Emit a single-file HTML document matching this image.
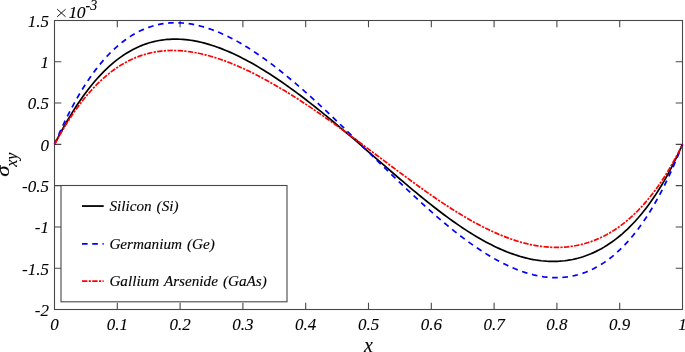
<!DOCTYPE html>
<html><head><meta charset="utf-8"><style>
html,body{margin:0;padding:0;background:#fff;}
svg{display:block;will-change:transform}
g.tx{filter:grayscale(1)}
.t{font-family:"Liberation Serif",serif;font-style:italic;font-size:17px;fill:#000;stroke:#000;stroke-width:0.1px}
.g{font-family:"Liberation Serif",serif;font-style:italic;font-size:15.2px;word-spacing:1.2px;fill:#000;stroke:#000;stroke-width:0.12px}
.l{font-family:"Liberation Serif",serif;font-style:italic;font-size:20px;fill:#000;stroke:#000;stroke-width:0.1px}
</style></head><body>
<svg width="685" height="352" viewBox="0 0 685 352">
<rect width="685" height="352" fill="#fff"/>
<rect x="54.5" y="20.5" width="628.0" height="289.0" fill="#fff" stroke="#484848" stroke-width="1.1"/>
<path d="M117.30,309.5 v-6.8 M117.30,20.5 v6.8" stroke="#484848" stroke-width="1.1" fill="none"/>
<path d="M180.10,309.5 v-6.8 M180.10,20.5 v6.8" stroke="#484848" stroke-width="1.1" fill="none"/>
<path d="M242.90,309.5 v-6.8 M242.90,20.5 v6.8" stroke="#484848" stroke-width="1.1" fill="none"/>
<path d="M305.70,309.5 v-6.8 M305.70,20.5 v6.8" stroke="#484848" stroke-width="1.1" fill="none"/>
<path d="M368.50,309.5 v-6.8 M368.50,20.5 v6.8" stroke="#484848" stroke-width="1.1" fill="none"/>
<path d="M431.30,309.5 v-6.8 M431.30,20.5 v6.8" stroke="#484848" stroke-width="1.1" fill="none"/>
<path d="M494.10,309.5 v-6.8 M494.10,20.5 v6.8" stroke="#484848" stroke-width="1.1" fill="none"/>
<path d="M556.90,309.5 v-6.8 M556.90,20.5 v6.8" stroke="#484848" stroke-width="1.1" fill="none"/>
<path d="M619.70,309.5 v-6.8 M619.70,20.5 v6.8" stroke="#484848" stroke-width="1.1" fill="none"/>
<path d="M54.5,61.79 h6.8 M682.5,61.79 h-6.8" stroke="#484848" stroke-width="1.1" fill="none"/>
<path d="M54.5,103.07 h6.8 M682.5,103.07 h-6.8" stroke="#484848" stroke-width="1.1" fill="none"/>
<path d="M54.5,144.36 h6.8 M682.5,144.36 h-6.8" stroke="#484848" stroke-width="1.1" fill="none"/>
<path d="M54.5,185.64 h6.8 M682.5,185.64 h-6.8" stroke="#484848" stroke-width="1.1" fill="none"/>
<path d="M54.5,226.93 h6.8 M682.5,226.93 h-6.8" stroke="#484848" stroke-width="1.1" fill="none"/>
<path d="M54.5,268.21 h6.8 M682.5,268.21 h-6.8" stroke="#484848" stroke-width="1.1" fill="none"/>
<path d="M54.50,144.36 L57.12,139.26 L59.73,134.30 L62.35,129.48 L64.97,124.80 L67.58,120.27 L70.20,115.88 L72.82,111.63 L75.43,107.51 L78.05,103.54 L80.67,99.70 L83.28,96.00 L85.90,92.44 L88.52,89.01 L91.13,85.71 L93.75,82.54 L96.37,79.50 L98.98,76.59 L101.60,73.80 L104.22,71.14 L106.83,68.60 L109.45,66.18 L112.07,63.88 L114.68,61.70 L117.30,59.63 L119.92,57.67 L122.53,55.83 L125.15,54.09 L127.77,52.46 L130.38,50.93 L133.00,49.51 L135.62,48.19 L138.23,46.97 L140.85,45.84 L143.47,44.81 L146.08,43.87 L148.70,43.02 L151.32,42.26 L153.93,41.59 L156.55,41.00 L159.17,40.50 L161.78,40.08 L164.40,39.73 L167.02,39.47 L169.63,39.28 L172.25,39.16 L174.87,39.12 L177.48,39.14 L180.10,39.24 L182.72,39.40 L185.33,39.63 L187.95,39.92 L190.57,40.28 L193.18,40.69 L195.80,41.17 L198.42,41.70 L201.03,42.29 L203.65,42.94 L206.27,43.63 L208.88,44.39 L211.50,45.19 L214.12,46.04 L216.73,46.94 L219.35,47.89 L221.97,48.89 L224.58,49.93 L227.20,51.02 L229.82,52.14 L232.43,53.31 L235.05,54.52 L237.67,55.78 L240.28,57.07 L242.90,58.39 L245.52,59.76 L248.13,61.16 L250.75,62.60 L253.37,64.07 L255.98,65.57 L258.60,67.11 L261.22,68.68 L263.83,70.28 L266.45,71.91 L269.07,73.58 L271.68,75.26 L274.30,76.98 L276.92,78.73 L279.53,80.50 L282.15,82.30 L284.77,84.12 L287.38,85.97 L290.00,87.84 L292.62,89.74 L295.23,91.65 L297.85,93.59 L300.47,95.55 L303.08,97.54 L305.70,99.54 L308.32,101.56 L310.93,103.60 L313.55,105.65 L316.17,107.73 L318.78,109.82 L321.40,111.93 L324.02,114.05 L326.63,116.19 L329.25,118.34 L331.87,120.50 L334.48,122.68 L337.10,124.87 L339.72,127.07 L342.33,129.28 L344.95,131.50 L347.57,133.73 L350.18,135.96 L352.80,138.21 L355.42,140.46 L358.03,142.72 L360.65,144.98 L363.27,147.25 L365.88,149.52 L368.50,151.79 L371.12,154.07 L373.73,156.34 L376.35,158.62 L378.97,160.90 L381.58,163.17 L384.20,165.45 L386.82,167.72 L389.43,169.98 L392.05,172.24 L394.67,174.50 L397.28,176.75 L399.90,178.99 L402.52,181.22 L405.13,183.45 L407.75,185.66 L410.37,187.86 L412.98,190.05 L415.60,192.22 L418.22,194.38 L420.83,196.53 L423.45,198.66 L426.07,200.77 L428.68,202.86 L431.30,204.93 L433.92,206.99 L436.53,209.02 L439.15,211.03 L441.77,213.01 L444.38,214.97 L447.00,216.91 L449.62,218.82 L452.23,220.70 L454.85,222.55 L457.47,224.37 L460.08,226.16 L462.70,227.92 L465.32,229.65 L467.93,231.34 L470.55,233.00 L473.17,234.62 L475.78,236.20 L478.40,237.75 L481.02,239.25 L483.63,240.72 L486.25,242.14 L488.87,243.52 L491.48,244.86 L494.10,246.16 L496.72,247.41 L499.33,248.61 L501.95,249.77 L504.57,250.87 L507.18,251.93 L509.80,252.94 L512.42,253.89 L515.03,254.80 L517.65,255.65 L520.27,256.45 L522.88,257.19 L525.50,257.87 L528.12,258.50 L530.73,259.07 L533.35,259.58 L535.97,260.03 L538.58,260.42 L541.20,260.75 L543.82,261.01 L546.43,261.21 L549.05,261.35 L551.67,261.41 L554.28,261.42 L556.90,261.35 L559.52,261.21 L562.13,261.01 L564.75,260.73 L567.37,260.38 L569.98,259.96 L572.60,259.46 L575.22,258.88 L577.83,258.23 L580.45,257.50 L583.07,256.69 L585.68,255.79 L588.30,254.82 L590.92,253.75 L593.53,252.61 L596.15,251.37 L598.77,250.05 L601.38,248.64 L604.00,247.13 L606.62,245.52 L609.23,243.82 L611.85,242.03 L614.47,240.13 L617.08,238.12 L619.70,236.01 L622.32,233.79 L624.93,231.46 L627.55,229.02 L630.17,226.46 L632.78,223.78 L635.40,220.97 L638.02,218.04 L640.63,214.98 L643.25,211.78 L645.87,208.44 L648.48,204.97 L651.10,201.34 L653.72,197.56 L656.33,193.63 L658.95,189.53 L661.57,185.26 L664.18,180.83 L666.80,176.21 L669.42,171.40 L672.03,166.41 L674.65,161.21 L677.27,155.81 L679.88,150.20 L682.50,144.36" stroke="#000" stroke-width="1.7" fill="none" stroke-linejoin="round"/>
<path d="M54.50,144.36 L57.12,138.28 L59.73,132.40 L62.35,126.72 L64.97,121.22 L67.58,115.91 L70.20,110.78 L72.82,105.83 L75.43,101.06 L78.05,96.46 L80.67,92.03 L83.28,87.77 L85.90,83.68 L88.52,79.74 L91.13,75.96 L93.75,72.34 L96.37,68.87 L98.98,65.55 L101.60,62.38 L104.22,59.35 L106.83,56.46 L109.45,53.72 L112.07,51.10 L114.68,48.62 L117.30,46.27 L119.92,44.05 L122.53,41.95 L125.15,39.98 L127.77,38.12 L130.38,36.39 L133.00,34.77 L135.62,33.26 L138.23,31.86 L140.85,30.57 L143.47,29.39 L146.08,28.31 L148.70,27.34 L151.32,26.46 L153.93,25.68 L156.55,25.00 L159.17,24.41 L161.78,23.92 L164.40,23.51 L167.02,23.19 L169.63,22.95 L172.25,22.80 L174.87,22.74 L177.48,22.75 L180.10,22.84 L182.72,23.01 L185.33,23.25 L187.95,23.57 L190.57,23.96 L193.18,24.42 L195.80,24.95 L198.42,25.55 L201.03,26.21 L203.65,26.94 L206.27,27.73 L208.88,28.58 L211.50,29.49 L214.12,30.46 L216.73,31.49 L219.35,32.57 L221.97,33.71 L224.58,34.90 L227.20,36.15 L229.82,37.44 L232.43,38.79 L235.05,40.18 L237.67,41.62 L240.28,43.11 L242.90,44.64 L245.52,46.22 L248.13,47.84 L250.75,49.50 L253.37,51.20 L255.98,52.94 L258.60,54.72 L261.22,56.54 L263.83,58.40 L266.45,60.29 L269.07,62.21 L271.68,64.17 L274.30,66.16 L276.92,68.19 L279.53,70.24 L282.15,72.33 L284.77,74.44 L287.38,76.58 L290.00,78.75 L292.62,80.94 L295.23,83.16 L297.85,85.40 L300.47,87.67 L303.08,89.96 L305.70,92.27 L308.32,94.60 L310.93,96.96 L313.55,99.33 L316.17,101.72 L318.78,104.12 L321.40,106.55 L324.02,108.99 L326.63,111.44 L329.25,113.91 L331.87,116.39 L334.48,118.88 L337.10,121.38 L339.72,123.90 L342.33,126.42 L344.95,128.96 L347.57,131.50 L350.18,134.05 L352.80,136.60 L355.42,139.16 L358.03,141.72 L360.65,144.29 L363.27,146.86 L365.88,149.43 L368.50,152.01 L371.12,154.58 L373.73,157.15 L376.35,159.72 L378.97,162.29 L381.58,164.86 L384.20,167.42 L386.82,169.97 L389.43,172.52 L392.05,175.07 L394.67,177.60 L397.28,180.13 L399.90,182.64 L402.52,185.15 L405.13,187.64 L407.75,190.12 L410.37,192.59 L412.98,195.04 L415.60,197.48 L418.22,199.90 L420.83,202.30 L423.45,204.69 L426.07,207.06 L428.68,209.40 L431.30,211.73 L433.92,214.03 L436.53,216.31 L439.15,218.57 L441.77,220.80 L444.38,223.00 L447.00,225.18 L449.62,227.33 L452.23,229.45 L454.85,231.54 L457.47,233.60 L460.08,235.62 L462.70,237.62 L465.32,239.58 L467.93,241.50 L470.55,243.39 L473.17,245.24 L475.78,247.05 L478.40,248.82 L481.02,250.55 L483.63,252.24 L486.25,253.88 L488.87,255.48 L491.48,257.04 L494.10,258.55 L496.72,260.01 L499.33,261.42 L501.95,262.78 L504.57,264.10 L507.18,265.35 L509.80,266.56 L512.42,267.71 L515.03,268.81 L517.65,269.84 L520.27,270.82 L522.88,271.74 L525.50,272.60 L528.12,273.40 L530.73,274.13 L533.35,274.80 L535.97,275.40 L538.58,275.93 L541.20,276.39 L543.82,276.79 L546.43,277.11 L549.05,277.36 L551.67,277.53 L554.28,277.63 L556.90,277.64 L559.52,277.58 L562.13,277.44 L564.75,277.21 L567.37,276.90 L569.98,276.50 L572.60,276.02 L575.22,275.44 L577.83,274.78 L580.45,274.01 L583.07,273.16 L585.68,272.20 L588.30,271.15 L590.92,270.00 L593.53,268.74 L596.15,267.37 L598.77,265.90 L601.38,264.32 L604.00,262.62 L606.62,260.81 L609.23,258.88 L611.85,256.83 L614.47,254.66 L617.08,252.37 L619.70,249.94 L622.32,247.39 L624.93,244.70 L627.55,241.87 L630.17,238.90 L632.78,235.79 L635.40,232.54 L638.02,229.13 L640.63,225.57 L643.25,221.85 L645.87,217.97 L648.48,213.93 L651.10,209.72 L653.72,205.33 L656.33,200.77 L658.95,196.02 L661.57,191.09 L664.18,185.97 L666.80,180.66 L669.42,175.14 L672.03,169.42 L674.65,163.48 L677.27,157.33 L679.88,150.96 L682.50,144.36" stroke="#0000ff" stroke-width="1.7" fill="none" stroke-dasharray="5.6,4.65" stroke-linejoin="round"/>
<path d="M54.50,144.36 L57.12,139.59 L59.73,134.97 L62.35,130.50 L64.97,126.17 L67.58,121.99 L70.20,117.95 L72.82,114.05 L75.43,110.28 L78.05,106.66 L80.67,103.17 L83.28,99.81 L85.90,96.58 L88.52,93.49 L91.13,90.52 L93.75,87.68 L96.37,84.96 L98.98,82.37 L101.60,79.89 L104.22,77.54 L106.83,75.29 L109.45,73.16 L112.07,71.14 L114.68,69.23 L117.30,67.43 L119.92,65.73 L122.53,64.14 L125.15,62.64 L127.77,61.24 L130.38,59.94 L133.00,58.73 L135.62,57.62 L138.23,56.59 L140.85,55.65 L143.47,54.79 L146.08,54.02 L148.70,53.33 L151.32,52.72 L153.93,52.19 L156.55,51.73 L159.17,51.35 L161.78,51.04 L164.40,50.79 L167.02,50.62 L169.63,50.51 L172.25,50.47 L174.87,50.49 L177.48,50.57 L180.10,50.71 L182.72,50.91 L185.33,51.16 L187.95,51.47 L190.57,51.83 L193.18,52.25 L195.80,52.72 L198.42,53.23 L201.03,53.79 L203.65,54.40 L206.27,55.06 L208.88,55.76 L211.50,56.50 L214.12,57.29 L216.73,58.11 L219.35,58.97 L221.97,59.88 L224.58,60.82 L227.20,61.80 L229.82,62.81 L232.43,63.86 L235.05,64.94 L237.67,66.05 L240.28,67.20 L242.90,68.37 L245.52,69.58 L248.13,70.82 L250.75,72.08 L253.37,73.38 L255.98,74.70 L258.60,76.04 L261.22,77.42 L263.83,78.82 L266.45,80.24 L269.07,81.69 L271.68,83.16 L274.30,84.65 L276.92,86.17 L279.53,87.70 L282.15,89.26 L284.77,90.84 L287.38,92.44 L290.00,94.06 L292.62,95.69 L295.23,97.35 L297.85,99.02 L300.47,100.71 L303.08,102.42 L305.70,104.14 L308.32,105.88 L310.93,107.64 L313.55,109.40 L316.17,111.19 L318.78,112.99 L321.40,114.80 L324.02,116.62 L326.63,118.45 L329.25,120.30 L331.87,122.16 L334.48,124.03 L337.10,125.91 L339.72,127.80 L342.33,129.70 L344.95,131.60 L347.57,133.52 L350.18,135.44 L352.80,137.37 L355.42,139.31 L358.03,141.25 L360.65,143.19 L363.27,145.14 L365.88,147.10 L368.50,149.06 L371.12,151.02 L373.73,152.98 L376.35,154.95 L378.97,156.91 L381.58,158.88 L384.20,160.84 L386.82,162.80 L389.43,164.76 L392.05,166.72 L394.67,168.68 L397.28,170.63 L399.90,172.57 L402.52,174.51 L405.13,176.44 L407.75,178.37 L410.37,180.29 L412.98,182.19 L415.60,184.09 L418.22,185.98 L420.83,187.86 L423.45,189.72 L426.07,191.58 L428.68,193.41 L431.30,195.24 L433.92,197.04 L436.53,198.84 L439.15,200.61 L441.77,202.36 L444.38,204.10 L447.00,205.82 L449.62,207.51 L452.23,209.19 L454.85,210.84 L457.47,212.46 L460.08,214.07 L462.70,215.64 L465.32,217.19 L467.93,218.72 L470.55,220.21 L473.17,221.68 L475.78,223.11 L478.40,224.52 L481.02,225.89 L483.63,227.23 L486.25,228.53 L488.87,229.80 L491.48,231.03 L494.10,232.23 L496.72,233.39 L499.33,234.51 L501.95,235.59 L504.57,236.63 L507.18,237.63 L509.80,238.59 L512.42,239.50 L515.03,240.37 L517.65,241.19 L520.27,241.97 L522.88,242.69 L525.50,243.37 L528.12,244.00 L530.73,244.59 L533.35,245.11 L535.97,245.59 L538.58,246.01 L541.20,246.38 L543.82,246.70 L546.43,246.95 L549.05,247.15 L551.67,247.30 L554.28,247.38 L556.90,247.40 L559.52,247.36 L562.13,247.25 L564.75,247.09 L567.37,246.85 L569.98,246.55 L572.60,246.19 L575.22,245.75 L577.83,245.24 L580.45,244.67 L583.07,244.01 L585.68,243.29 L588.30,242.49 L590.92,241.61 L593.53,240.65 L596.15,239.62 L598.77,238.50 L601.38,237.29 L604.00,236.00 L606.62,234.63 L609.23,233.16 L611.85,231.60 L614.47,229.95 L617.08,228.21 L619.70,226.36 L622.32,224.41 L624.93,222.37 L627.55,220.21 L630.17,217.95 L632.78,215.58 L635.40,213.09 L638.02,210.48 L640.63,207.76 L643.25,204.91 L645.87,201.93 L648.48,198.82 L651.10,195.57 L653.72,192.19 L656.33,188.66 L658.95,184.99 L661.57,181.16 L664.18,177.17 L666.80,173.02 L669.42,168.70 L672.03,164.20 L674.65,159.53 L677.27,154.67 L679.88,149.61 L682.50,144.36" stroke="#ff0000" stroke-width="1.7" fill="none" stroke-dasharray="5.4,1.3,2.2,1.35" stroke-linejoin="round"/>
<rect x="61" y="185.5" width="226" height="116.3" fill="#fff" stroke="#484848" stroke-width="1.1"/>
<path d="M82,206.05 H103.7" stroke="#000" stroke-width="1.8"/>
<path d="M82,243.8 H103.7" stroke="#0000ff" stroke-width="1.8" stroke-dasharray="5.6,4.65"/>
<path d="M82,281.2 H103.7" stroke="#ff0000" stroke-width="1.7" stroke-dasharray="5.4,1.3,2.2,1.35"/>
<path d="M57.2,9.2 L65.6,16.8 M57.2,16.8 L65.6,9.2" stroke="#1a1a1a" stroke-width="1" fill="none"/>
<g opacity="0.999">
<text x="49" y="26.80" text-anchor="end" class="t">1.5</text>
<text x="49" y="68.09" text-anchor="end" class="t">1</text>
<text x="49" y="109.37" text-anchor="end" class="t">0.5</text>
<text x="49" y="150.66" text-anchor="end" class="t">0</text>
<text x="49" y="191.94" text-anchor="end" class="t">-0.5</text>
<text x="49" y="233.23" text-anchor="end" class="t">-1</text>
<text x="49" y="274.51" text-anchor="end" class="t">-1.5</text>
<text x="49" y="315.80" text-anchor="end" class="t">-2</text>
<text x="54.50" y="329.8" text-anchor="middle" class="t">0</text>
<text x="117.30" y="329.8" text-anchor="middle" class="t">0.1</text>
<text x="180.10" y="329.8" text-anchor="middle" class="t">0.2</text>
<text x="242.90" y="329.8" text-anchor="middle" class="t">0.3</text>
<text x="305.70" y="329.8" text-anchor="middle" class="t">0.4</text>
<text x="368.50" y="329.8" text-anchor="middle" class="t">0.5</text>
<text x="431.30" y="329.8" text-anchor="middle" class="t">0.6</text>
<text x="494.10" y="329.8" text-anchor="middle" class="t">0.7</text>
<text x="556.90" y="329.8" text-anchor="middle" class="t">0.8</text>
<text x="619.70" y="329.8" text-anchor="middle" class="t">0.9</text>
<text x="682.50" y="329.8" text-anchor="middle" class="t">1</text>
<text x="109.4" y="211.2" class="g">Silicon (Si)</text>
<text x="109.4" y="249.1" class="g">Germanium (Ge)</text>
<text x="109.4" y="286.4" class="g">Gallium Arsenide (GaAs)</text>
<text x="68.6" y="17.6" class="t" style="font-size:17.6px;letter-spacing:-0.6px">10</text>
<text x="85.6" y="10" class="t" style="font-size:14px">-3</text>
<text x="368.4" y="351.5" text-anchor="middle" class="l">x</text>
<text transform="translate(8.6,176.8) rotate(-90) scale(1.25,1)" class="t" style="font-size:18.5px">σ</text>
<text transform="translate(16.7,166.8) rotate(-90)" class="t" style="font-size:16px">xy</text>
</g>
</svg></body></html>
